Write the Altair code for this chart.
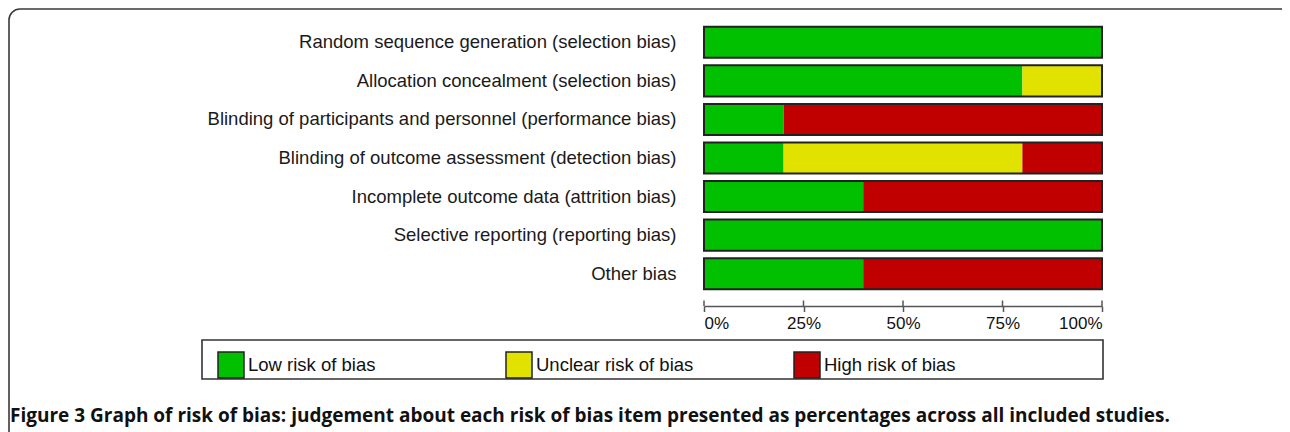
import altair as alt
import pandas as pd

items = [
    "Random sequence generation (selection bias)",
    "Allocation concealment (selection bias)",
    "Blinding of participants and personnel (performance bias)",
    "Blinding of outcome assessment (detection bias)",
    "Incomplete outcome data (attrition bias)",
    "Selective reporting (reporting bias)",
    "Other bias",
]
categories = ["Low risk of bias", "Unclear risk of bias", "High risk of bias"]
low = [100, 80, 20, 20, 40, 100, 40]
unclear = [0, 20, 0, 60, 0, 0, 0]
high = [0, 0, 80, 20, 60, 0, 60]
tick_values = [0, 25, 50, 75, 100]
caption = ("Figure 3 Graph of risk of bias: judgement about each risk of bias item "
           "presented as percentages across all included studies.")

colors = ["#00c000", "#e2e200", "#c00000"]

rows = []
for i, item in enumerate(items):
    for j, (cat, vals) in enumerate(zip(categories, [low, unclear, high])):
        rows.append({"item": item, "category": cat, "order": j, "value": vals[i]})
df = pd.DataFrame(rows)
one = pd.DataFrame({"k": [0]})
ticks_df = pd.DataFrame({"t": tick_values})

W, H = 398, 270
AX_OFF = 13

yenc = alt.Y("item:N", sort=items,
             scale=alt.Scale(paddingInner=0.195, paddingOuter=0.0975),
             axis=alt.Axis(title=None, ticks=False, domain=False, labelFontSize=18.5,
                           labelFont="Liberation Sans", labelPadding=28,
                           labelColor="#1a1a1a", labelLimit=0))

xscale = alt.Scale(domain=[0, 100], nice=False)

frame = alt.Chart(one).mark_rect(cornerRadius=11, fillOpacity=0, stroke="#3a3a3a",
                                 strokeWidth=1.6).encode(
    x=alt.value(-695), x2=alt.value(620), y=alt.value(-14), y2=alt.value(440))

bars = alt.Chart(df).mark_bar().encode(
    x=alt.X("value:Q", stack="zero", scale=xscale,
            axis=alt.Axis(title=None, values=tick_values, grid=False, offset=AX_OFF,
                          tickSize=5.5, tickWidth=1.5, tickColor="#555",
                          domainColor="#555", domainWidth=1.5,
                          labelExpr="datum.value + '%'", labelFlush=True,
                          labelFontSize=17, labelFont="Liberation Sans",
                          labelColor="#111", labelPadding=4)),
    y=yenc,
    color=alt.Color("category:N", scale=alt.Scale(domain=categories, range=colors),
                    legend=alt.Legend(orient="none", legendX=-487, legendY=328,
                                      direction="horizontal", columns=3,
                                      gridAlign="all", columnPadding=97,
                                      symbolType="square", symbolSize=676,
                                      symbolStrokeColor="#222", symbolStrokeWidth=1.5,
                                      symbolOpacity=1,
                                      labelFontSize=18.5, labelFont="Liberation Sans",
                                      labelColor="#111", labelOffset=3, labelLimit=0,
                                      title=None, padding=0)),
    order=alt.Order("order:Q"),
)

outline = alt.Chart(df).mark_bar(fillOpacity=0, stroke="#222", strokeWidth=2).encode(
    x=alt.X("sum(value):Q", stack=None, scale=xscale),
    y=alt.Y("item:N", sort=items),
)

upticks = alt.Chart(ticks_df).mark_rule(color="#555", strokeWidth=1.5).encode(
    x=alt.X("t:Q", scale=xscale),
    y=alt.value(H + AX_OFF - 5.5), y2=alt.value(H + AX_OFF))

legend_box = alt.Chart(one).mark_rect(fillOpacity=0, stroke="#333", strokeWidth=1.6).encode(
    x=alt.value(-502), x2=alt.value(399), y=alt.value(317), y2=alt.value(356))

cap = alt.Chart(one).mark_text(align="left", baseline="alphabetic", font="Open Sans",
                               fontWeight="bold", fontSize=19, color="#111").encode(
    x=alt.value(-694), y=alt.value(399), text=alt.value(caption))

chart = alt.layer(frame, bars, outline, upticks, legend_box, cap).properties(
    width=W, height=H, autosize="none",
    padding={"left": 696, "top": 15, "right": 180, "bottom": 139},
).configure_view(stroke=None)

chart.save("out.html", embed_options={"renderer": "svg", "actions": False})
